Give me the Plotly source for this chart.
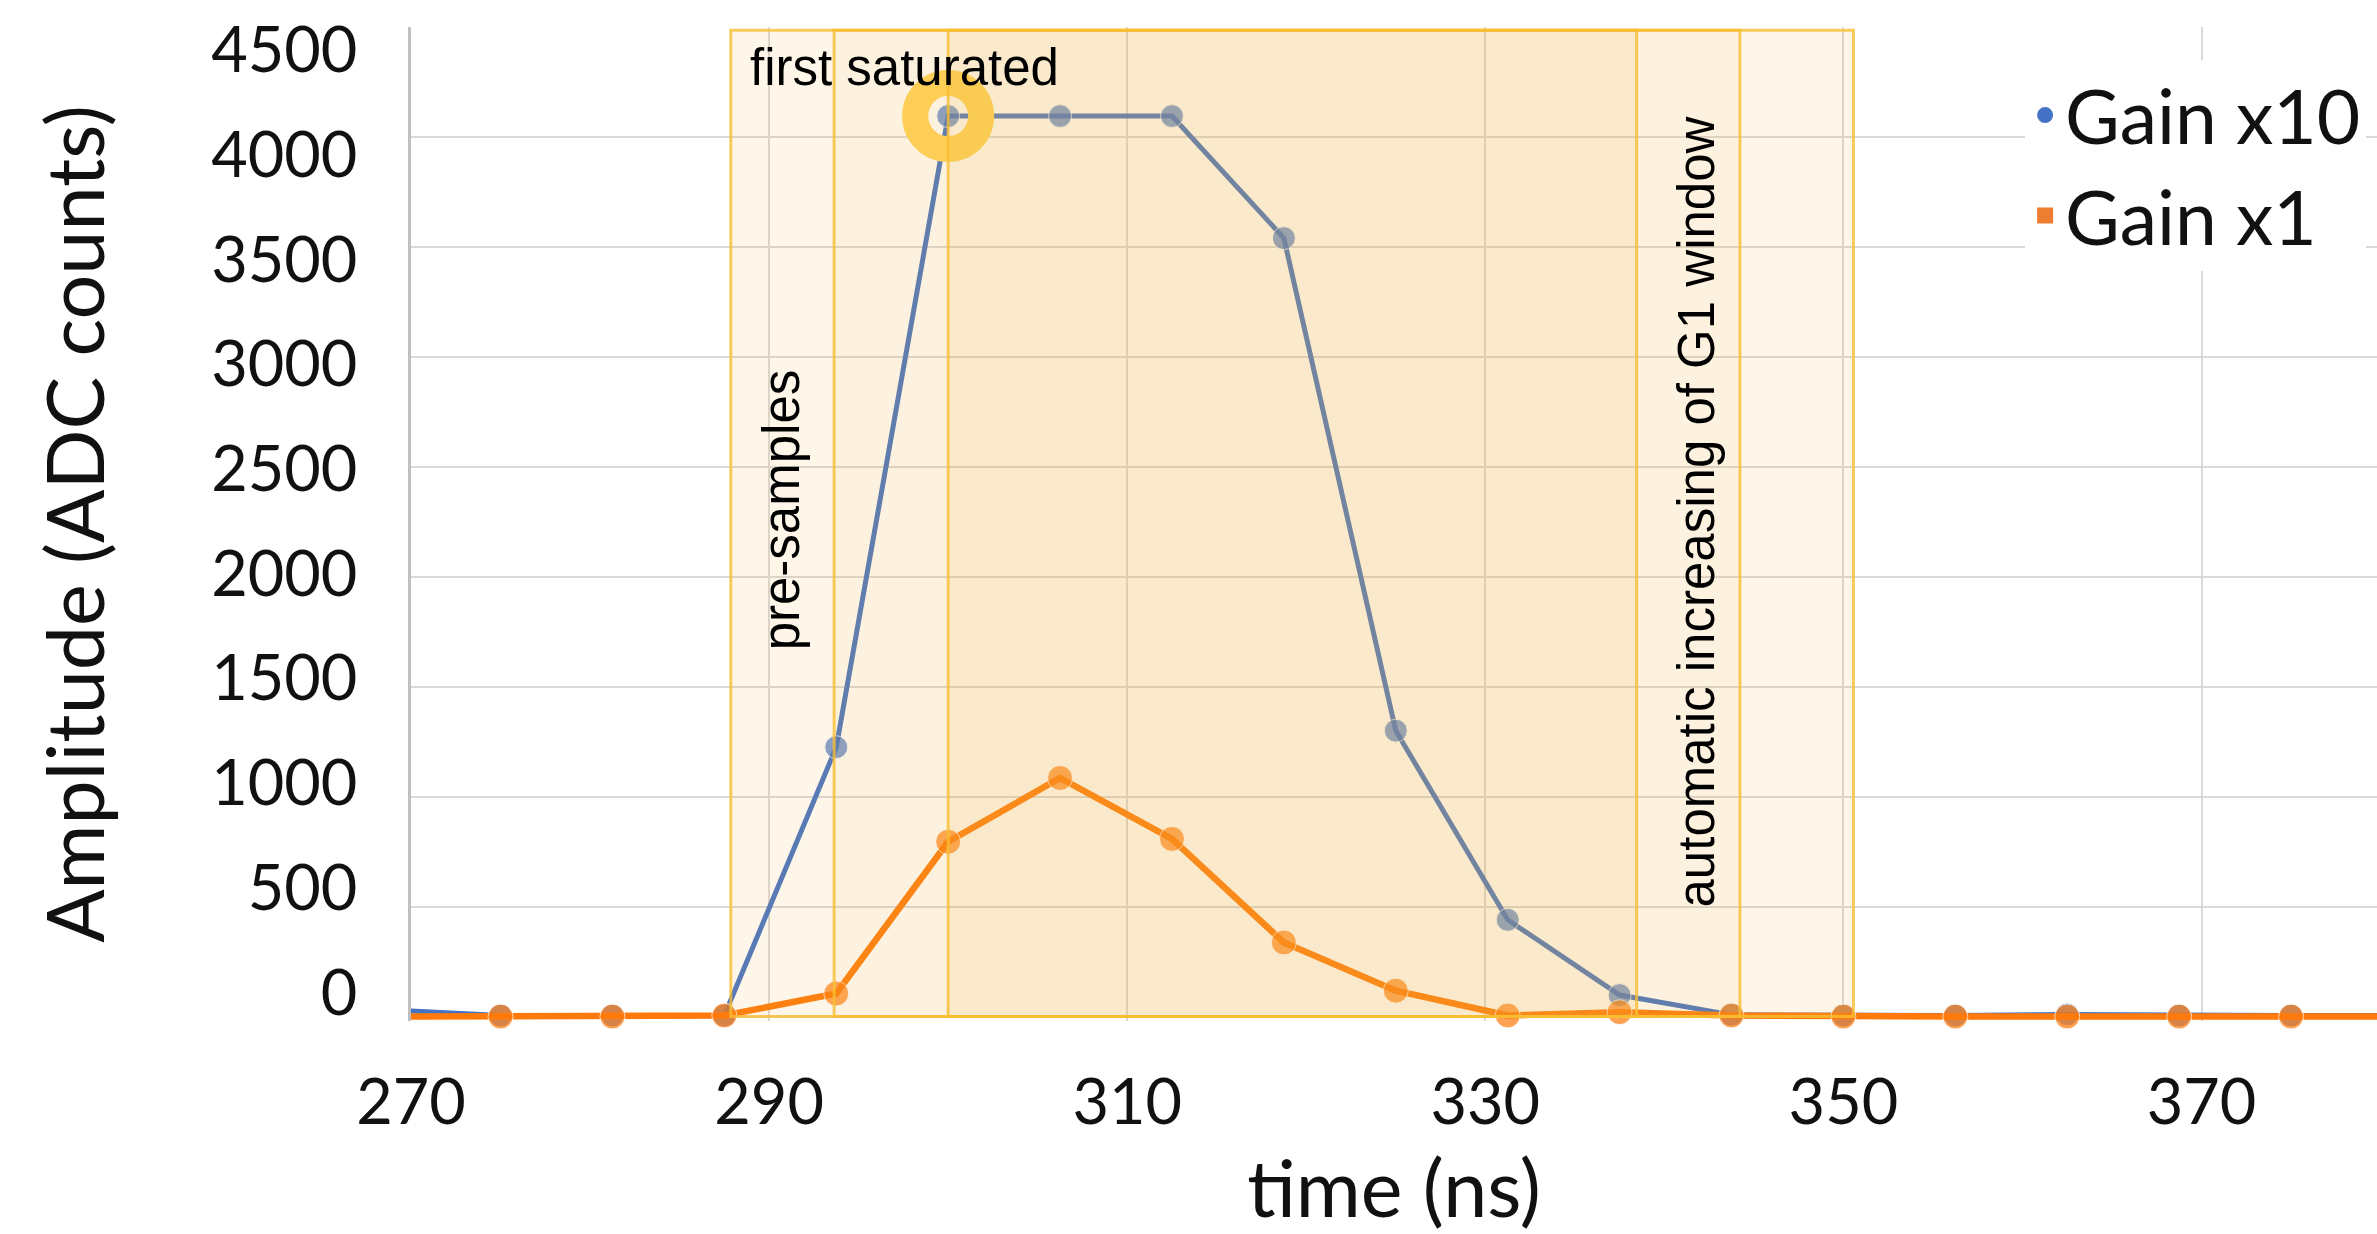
import plotly.graph_objects as go

# ---------------- data ----------------
time_ns = [268.75, 275.0, 281.25, 287.5, 293.75, 300.0, 306.25, 312.5, 318.75,
           325.0, 331.25, 337.5, 343.75, 350.0, 356.25, 362.5, 368.75, 375.0, 381.25]
gain_x10 = [30, 5, 5, 5, 1225, 4095, 4095, 4095, 3540,
            1300, 440, 98, 8, 5, 5, 10, 5, 5, 5]
gain_x1 = [0, 0, 0, 5, 105, 795, 1085, 808, 337,
           118, 5, 20, 5, 0, 0, 0, 0, 0, 0]
series_names = ["Gain x10", "Gain x1"]
x_ticks = [270, 290, 310, 330, 350, 370]
y_ticks = [0, 500, 1000, 1500, 2000, 2500, 3000, 3500, 4000, 4500]

# sample windows (ns)
outer_window = [287.86, 350.56]
middle_window = [293.63, 344.22]
inner_window = [300.0, 338.45]
window_top = 4485

# ---------------- styling ----------------
X_RANGE = [270, 379.8]
Y_RANGE = [-20, 4500]
# the pasted tick-label column of the original is slightly compressed vs. the grid
Y_LABEL_RANGE = [-135.5, 4609.6]
BLUE = "#4472C4"
ORANGE = "#FF7A0A"
RING = "#FFD45A"
TICK_FONT = dict(family="Lato", size=63, color="#111111")
TITLE_FONT = dict(family="Lato", size=79, color="#111111")
NOTE_FONT = dict(family="Liberation Sans", size=51, color="#000000")

def visible_sizes(xs, size):
    return [size if X_RANGE[0] <= x <= X_RANGE[1] else 0 for x in xs]

fig = go.Figure()

fig.add_trace(go.Scatter(
    x=time_ns, y=gain_x10, mode="lines+markers", name=series_names[0],
    line=dict(color=BLUE, width=5),
    marker=dict(color=BLUE, size=visible_sizes(time_ns, 23)),
    cliponaxis=False, showlegend=False, hoverinfo="skip"))

fig.add_trace(go.Scatter(
    x=time_ns, y=gain_x1, mode="lines+markers", name=series_names[1],
    line=dict(color=ORANGE, width=6.5),
    marker=dict(color=ORANGE, size=visible_sizes(time_ns, 25)),
    cliponaxis=False, showlegend=False, hoverinfo="skip"))

# highlight ring on first saturated sample
i_sat = gain_x10.index(max(gain_x10))
fig.add_trace(go.Scatter(
    x=[time_ns[i_sat]], y=[gain_x10[i_sat]], mode="markers",
    marker=dict(symbol="circle-open", size=66, color=RING, line=dict(color=RING, width=26)),
    cliponaxis=False, showlegend=False, hoverinfo="skip"))

# legend entries (attached to the label axis so that it is drawn)
fig.add_trace(go.Scatter(x=[None], y=[None], mode="markers", name=series_names[0],
                         yaxis="y2",
                         marker=dict(symbol="circle", color=BLUE, size=16)))
fig.add_trace(go.Scatter(x=[None], y=[None], mode="markers", name=series_names[1],
                         yaxis="y2",
                         marker=dict(symbol="square", color="#ED7D31", size=16)))

# window boxes
for win, alpha in [(outer_window, 0.12), (middle_window, 0.06), (inner_window, 0.13)]:
    fig.add_shape(type="rect", xref="x", yref="y",
                  x0=win[0], x1=win[1], y0=0, y1=window_top,
                  fillcolor=f"rgba(240,185,70,{alpha})",
                  line=dict(color="rgba(247,190,50,0.8)", width=3),
                  layer="above")

fig.add_annotation(x=297.57, y=4314, text="first saturated", showarrow=False,
                   xanchor="center", yanchor="middle", font=NOTE_FONT)
fig.add_annotation(x=290.7, y=2305, text="pre-samples", showarrow=False, textangle=-90,
                   xanchor="center", yanchor="middle", font=NOTE_FONT)
fig.add_annotation(x=341.8, y=2295, text="automatic increasing of G1 window", showarrow=False,
                   textangle=-90, xanchor="center", yanchor="middle", font=NOTE_FONT)

fig.update_layout(
    width=2377, height=1234,
    margin=dict(l=411, r=0, t=27, b=213, autoexpand=False),
    paper_bgcolor="white", plot_bgcolor="white",
    showlegend=True,
    legend=dict(x=0.821, y=0.967, xanchor="left", yanchor="top",
                bgcolor="white", borderwidth=0,
                font=dict(family="Lato", size=75, color="#111111")),
    xaxis=dict(range=X_RANGE, tickvals=x_ticks, ticktext=[str(v) for v in x_ticks],
               automargin=False,
               showgrid=True, gridcolor="#D9D9D9", gridwidth=2,
               zeroline=False, showline=False,
               ticks="outside", ticklen=26, tickcolor="rgba(0,0,0,0)",
               tickfont=TICK_FONT,
               title=dict(text="time (ns)", font=TITLE_FONT, standoff=55)),
    yaxis=dict(range=Y_RANGE, tickvals=y_ticks, showticklabels=False,
               automargin=False,
               showgrid=True, gridcolor="#D9D9D9", gridwidth=2,
               zeroline=False, showline=True, linecolor="#BFBFBF", linewidth=3,
               ticks=""),
    yaxis2=dict(overlaying="y", side="left", range=Y_LABEL_RANGE,
                tickvals=y_ticks, ticktext=[str(v) for v in y_ticks],
                automargin=False, showgrid=False, zeroline=False, showline=False,
                ticks="outside", ticklen=40, tickcolor="rgba(0,0,0,0)",
                tickfont=TICK_FONT,
                title=dict(text="Amplitude (ADC counts)", font=TITLE_FONT, standoff=80)),
)

fig.write_html("out.html")
